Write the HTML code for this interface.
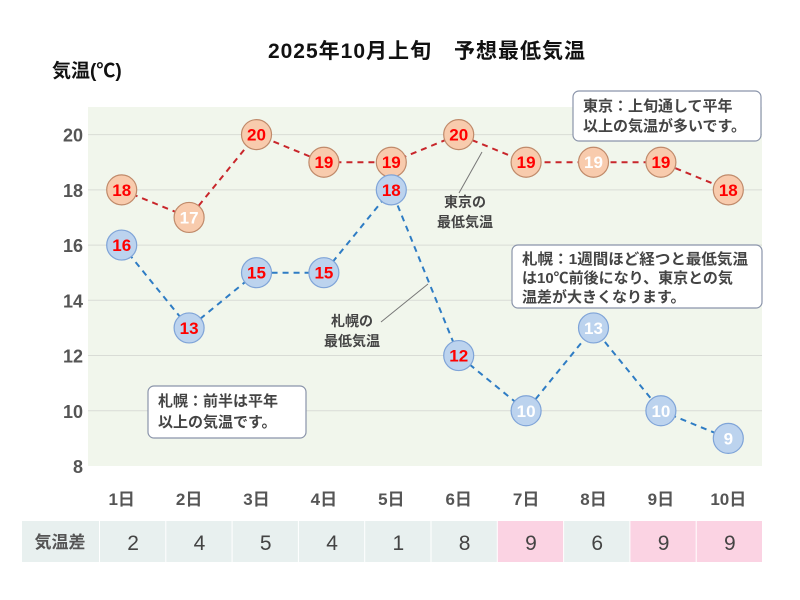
<!DOCTYPE html>
<html><head><meta charset="utf-8"><style>
body{margin:0;background:#fff;}
svg{display:block;font-family:"Liberation Sans","Noto Sans CJK JP",sans-serif;}
</style></head><body>
<svg id="chart" width="800" height="600" viewBox="0 0 800 600">
<rect x="0" y="0" width="800" height="600" fill="#fff"/>
<text x="427" y="58" text-anchor="middle" font-size="21" font-weight="bold" fill="#111" letter-spacing="1">2025年10月上旬　予想最低気温</text>
<text x="52" y="77" font-size="19" font-weight="bold" fill="#111">気温(℃)</text>
<rect x="88" y="107" width="674" height="359" fill="#f1f6ec"/>
<g id="grid"></g><g id="yticks"></g><g id="xticks"></g>
<g id="series"></g>
<g id="table"></g>
<g>
<line x1="482" y1="152" x2="459" y2="193" stroke="#777" stroke-width="1"/>
<text x="465" y="207" text-anchor="middle" font-size="14" font-weight="bold" fill="#444">東京の</text>
<text x="465" y="227" text-anchor="middle" font-size="14" font-weight="bold" fill="#444">最低気温</text>
</g>
<g>
<line x1="428" y1="284" x2="381" y2="322" stroke="#777" stroke-width="1"/>
<text x="352" y="326" text-anchor="middle" font-size="14" font-weight="bold" fill="#444">札幌の</text>
<text x="352" y="346" text-anchor="middle" font-size="14" font-weight="bold" fill="#444">最低気温</text>
</g>
<g>
<rect x="573" y="91" width="188" height="50" rx="6" fill="#fff" stroke="#8a94aa" stroke-width="1.2"/>
<text x="583" y="111" font-size="15" font-weight="bold" fill="#444">東京：上旬通して平年</text>
<text x="583" y="131" font-size="15" font-weight="bold" fill="#444">以上の気温が多いです。</text>
</g>
<g>
<rect x="512" y="245" width="250" height="63" rx="6" fill="#fff" stroke="#8a94aa" stroke-width="1.2"/>
<text x="522" y="264" font-size="15" font-weight="bold" fill="#444" textLength="226" lengthAdjust="spacingAndGlyphs">札幌：1週間ほど経つと最低気温</text>
<text x="522" y="283" font-size="15" font-weight="bold" fill="#444">は10℃前後になり、東京との気</text>
<text x="522" y="302" font-size="15" font-weight="bold" fill="#444">温差が大きくなります。</text>
</g>
<g>
<rect x="148" y="386" width="158" height="52" rx="6" fill="#fff" stroke="#8a94aa" stroke-width="1.2"/>
<text x="158" y="406" font-size="15" font-weight="bold" fill="#444">札幌：前半は平年</text>
<text x="158" y="427" font-size="15" font-weight="bold" fill="#444">以上の気温です。</text>
</g>
</svg>
<script>
const days = ["1日","2日","3日","4日","5日","6日","7日","8日","9日","10日"];
const tokyo = [18,17,20,19,19,20,19,19,19,18];
const sapporo = [16,13,15,15,18,12,10,13,10,9];
const tokyoWhiteLabel = [false,true,false,false,false,false,false,true,false,false];
const sapporoWhiteLabel = [false,false,false,false,false,false,true,true,true,true];
const diffs = [2,4,5,4,1,8,9,6,9,9];
const highlightDiff = [false,false,false,false,false,false,true,false,true,true];
const yTicks = [8,10,12,14,16,18,20];

const NS="http://www.w3.org/2000/svg";
const x0=88,x1=762,yMin=8,yMax=21;
const yTop=107,yBot=466;
const xs=i=>x0+(x1-x0)*(i+0.5)/days.length;
const ys=v=>yBot-(v-yMin)/(yMax-yMin)*(yBot-yTop);
function mk(tag,attrs,parent){const e=document.createElementNS(NS,tag);for(const k in attrs)e.setAttribute(k,attrs[k]);parent.appendChild(e);return e;}
const grid=document.getElementById('grid'),yt=document.getElementById('yticks'),xt=document.getElementById('xticks');
yTicks.forEach(v=>{
  if(v>yMin){const l=mk('line',{x1:x0,x2:x1,y1:ys(v),y2:ys(v),stroke:'#d9dcd6','stroke-width':1},grid);
  
  }
  const t=mk('text',{x:83,y:ys(v)+7,'text-anchor':'end','font-size':18,'font-weight':'bold',fill:'#555'},yt);
  t.textContent=v;
  
  
});
days.forEach((d,i)=>{
  const t=mk('text',{x:xs(i),y:505,'text-anchor':'middle','font-size':17,'font-weight':'bold',fill:'#555'},xt);
  t.textContent=d;
  
  
});
const sg=document.getElementById('series');
function series(vals,white,lineColor,fill,stroke,name){
  const g=mk('g',{},sg);
  
  
  const pts=vals.map((v,i)=>xs(i)+','+ys(v)).join(' ');
  const pl=mk('polyline',{points:pts,fill:'none',stroke:lineColor,'stroke-width':2,'stroke-dasharray':'6,5'},g);
  
  
  vals.forEach((v,i)=>{
    const c=mk('circle',{cx:xs(i),cy:ys(v),r:15,fill:fill,stroke:stroke,'stroke-width':1.2},g);
    
    
    const t=mk('text',{x:xs(i),y:ys(v)+6,'text-anchor':'middle','font-size':17,'font-weight':'bold',fill:white[i]?'#fff':'#f00'},g);
    t.textContent=v;
    
    
  });
}
series(tokyo,tokyoWhiteLabel,'#c8262b','#f8cbad','#c08a6a','tokyo');
series(sapporo,sapporoWhiteLabel,'#2e7cc4','#bcd3ee','#7fa4d8','sapporo');
const tb=document.getElementById('table');
const lab=mk('rect',{x:22,y:521,width:77,height:41,fill:'#e8f0ef'},tb);


const lt=mk('text',{x:60,y:548,'text-anchor':'middle','font-size':17,'font-weight':'bold',fill:'#555'},tb);
lt.textContent='気温差';


diffs.forEach((d,i)=>{
  const w=(x1+1-100)/days.length;
  const r=mk('rect',{x:100+i*w,y:521,width:w-1,height:41,fill:highlightDiff[i]?'#fbd3e3':'#e8f0ef'},tb);
  
  
  const t=mk('text',{x:100+i*w+w/2,y:550,'text-anchor':'middle','font-size':21,fill:'#444'},tb);
  t.textContent=d;
  
  
});
</script>
</body></html>
